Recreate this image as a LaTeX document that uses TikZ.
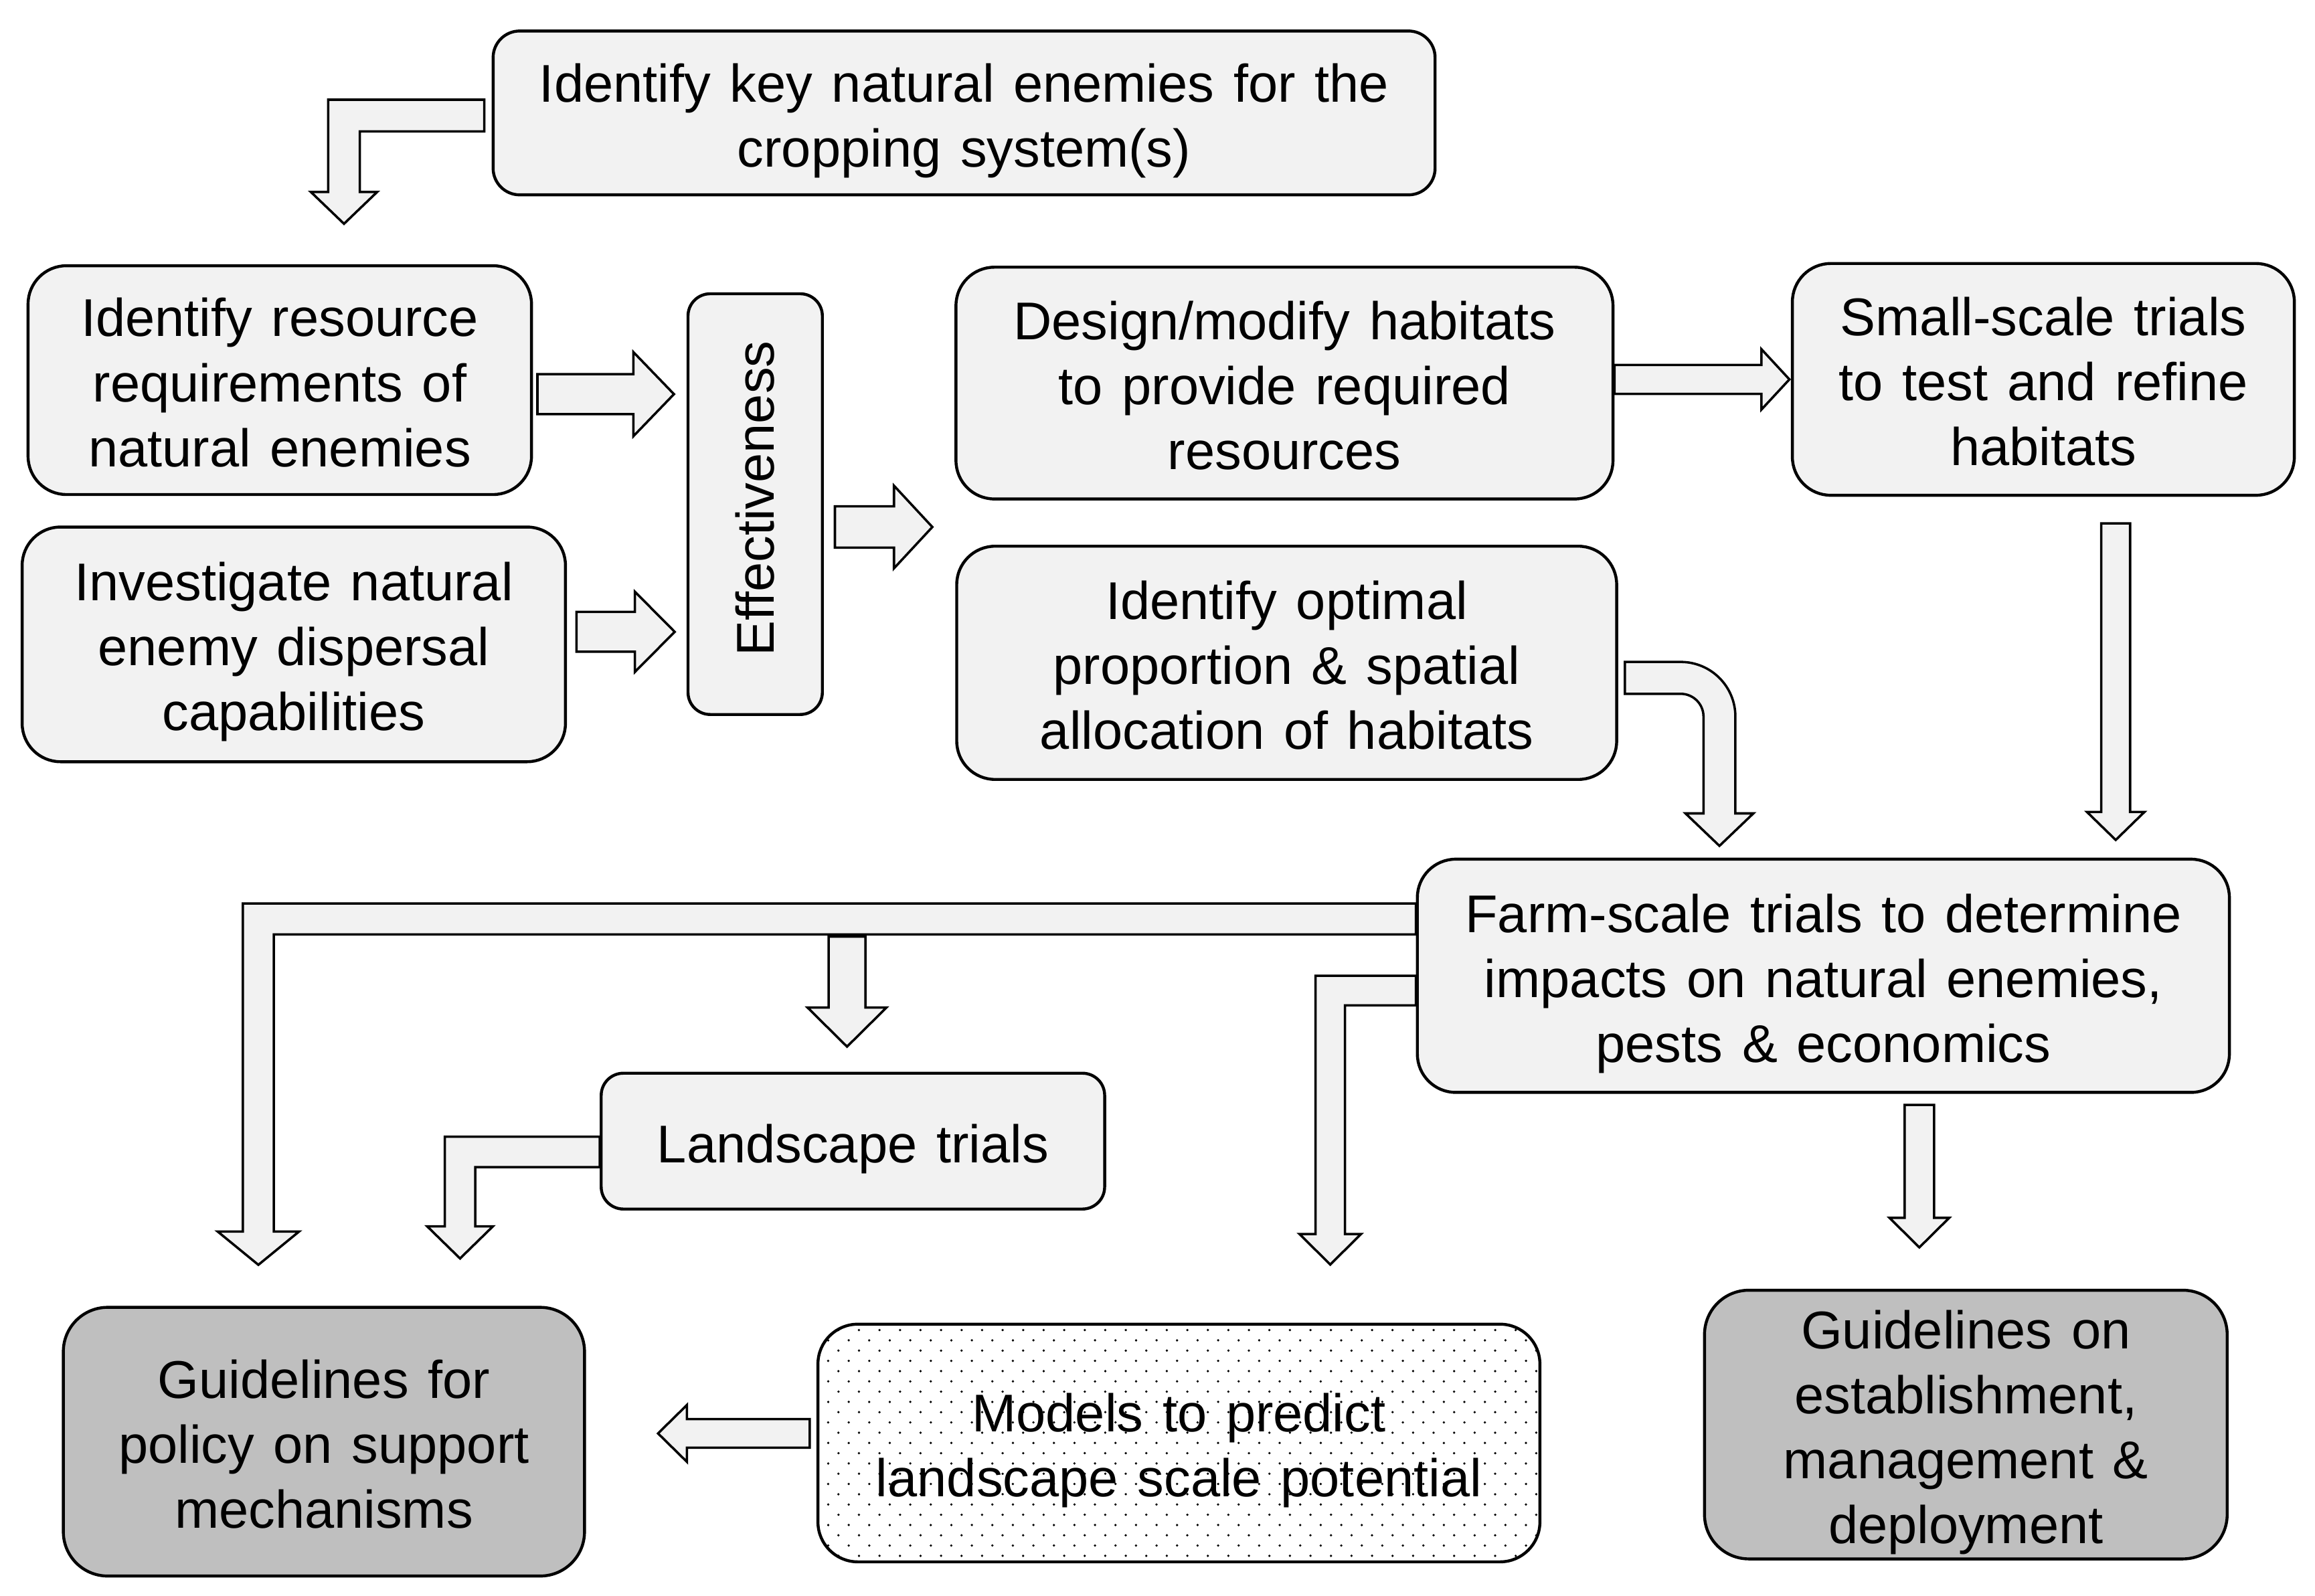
\documentclass[tikz,border=0pt]{standalone}
\usepackage{fontspec}
\setmainfont{Liberation Sans}[WordSpace=1.3]
\usetikzlibrary{calc}
\usetikzlibrary{shapes,arrows}
\definecolor{boxgrey}{HTML}{F2F2F2}
\definecolor{darkgrey}{HTML}{BFBFBF}
\newcommand{\ls}{\rule[-7.6pt]{0pt}{44.2pt}}
\tikzstyle{mybox}=[draw,line width=2pt,fill=boxgrey,rounded corners=26pt,inner sep=0pt,align=center,font=\fontsize{36}{44}\selectfont,
	execute at end node=\ls]
\tikzstyle{mydark}=[mybox,fill=darkgrey,rounded corners=30pt]
\tikzstyle{myarrow}=[draw,line width=1.6pt,fill=boxgrey,line join=miter]
% block arrows: start, tip, half shaft, half head, head length
\newcommand{\rarrow}[5]{\draw[myarrow] let \p1=#1, \p2=#2 in (\x1,\y2+#3) -- (\x2-#5,\y2+#3) -- (\x2-#5,\y2+#4) -- (\p2) -- (\x2-#5,\y2-#4) -- (\x2-#5,\y2-#3) -- (\x1,\y2-#3) -- cycle;}
\newcommand{\larrow}[5]{\draw[myarrow] let \p1=#1, \p2=#2 in (\x1,\y2+#3) -- (\x2+#5,\y2+#3) -- (\x2+#5,\y2+#4) -- (\p2) -- (\x2+#5,\y2-#4) -- (\x2+#5,\y2-#3) -- (\x1,\y2-#3) -- cycle;}
\newcommand{\darrow}[5]{\draw[myarrow] let \p1=#1, \p2=#2 in (\x2-#3,\y1) -- (\x2-#3,\y2+#5) -- (\x2-#4,\y2+#5) -- (\p2) -- (\x2+#4,\y2+#5) -- (\x2+#3,\y2+#5) -- (\x2+#3,\y1) -- cycle;}
\newcommand{\ldarrow}[5]{\draw[myarrow] let \p1=#1, \p2=#2 in (\x1,\y1+#3) -- (\x2-#3,\y1+#3) -- (\x2-#3,\y2+#5) -- (\x2-#4,\y2+#5) -- (\p2) -- (\x2+#4,\y2+#5) -- (\x2+#3,\y2+#5) -- (\x2+#3,\y1-#3) -- (\x1,\y1-#3) -- cycle;}

\begin{document}
\begin{tikzpicture}[x=1pt,y=1pt]
	\useasboundingbox (0,0) rectangle (1568,-1080.7);

	\node[mybox,rounded corners=18pt,minimum width=638pt,minimum height=111pt] (key) at (653,-76.5) {\ls Identify key natural enemies for the\\cropping system(s)};
	\node[mybox,minimum width=341pt,minimum height=155pt] (res) at (189.5,-257.5) {\ls Identify resource\\requirements of\\natural enemies};
	\node[mybox,minimum width=368pt,minimum height=159pt] (dispersal) at (199,-436.5) {\ls Investigate natural\\enemy dispersal\\capabilities};
	\node[mybox,rounded corners=15pt,minimum width=91pt,minimum height=285pt,execute at end node={}] (eff) at (511.5,-341.5) {\rotatebox{90}{Effectiveness}};
	\node[mybox,minimum width=445pt,minimum height=157pt] (design) at (870,-259.5) {\ls Design/modify habitats\\to provide required\\resources};
	\node[mybox,minimum width=340pt,minimum height=157pt] (small) at (1384,-257) {\ls Small-scale trials\\to test and refine\\habitats};
	\node[mybox,minimum width=447pt,minimum height=158pt] (optim) at (871.5,-449) {\ls Identify optimal\\proportion \& spatial\\allocation of habitats};
	\node[mybox,minimum width=550pt,minimum height=158pt] (farm) at (1235,-661) {\ls Farm-scale trials to determine\\impacts on natural enemies,\\pests \& economics};
	\node[mybox,rounded corners=15pt,minimum width=341pt,minimum height=92pt] (land) at (577.7,-773) {\ls Landscape trials};
	\node[mydark,minimum width=353pt,minimum height=182pt] (policy) at (219.4,-976.6) {\ls Guidelines for\\policy on support\\mechanisms};
	\node[mybox,fill=white,rounded corners=27pt,minimum width=489pt,minimum height=161pt,
		path picture={\foreach \j in {0,...,23} \foreach \i in {0,...,36}
			\fill[black] ([shift={({\i*13.9+mod(\j,2)*6.95},{-\j*6.95-4})}]path picture bounding box.north west) circle (0.85);}]
		(models) at (798.5,-977.5) {\ls Models to predict\\landscape scale potential};
	\node[mydark,minimum width=354pt,minimum height=182pt] (guide) at (1331.5,-965) {\ls Guidelines on\\establishment,\\management \&\\deployment};

	\ldarrow{($(key.west)+(-5,-1.8)$)}{($(res.north)+(43.5,27.4)$)}{10.75}{22.5}{21.6}
	\rarrow{($(res.east)+(3,0)$)}{($(eff.west)+(-8.5,74.5)$)}{13.5}{28.5}{27.5}
	\rarrow{($(dispersal.east)+(6.5,0)$)}{($(eff.west)+(-8,-86.5)$)}{13.5}{27.2}{27}
	\rarrow{($(eff.east)+(7.5,0)$)}{($(design.south west)+(-15,-18)$)}{14}{28}{26}
	\rarrow{(design.east)}{($(small.west)+(-1,0)$)}{9.8}{20.5}{19}
	\darrow{($(small.south)+(0,-18)$)}{($(farm.north)+(198,12)$)}{9.75}{19.5}{19}
	\draw[myarrow] let \p1=($(optim.east)+(4.6,-10.2)$), \p2=($(farm.north)+(-70.4,8)$) in
		(\x1,\y1+10.8) -- (\x2+10.8-37,\y1+10.8) arc[start angle=90,end angle=0,radius=37pt] -- (\x2+10.8,\y2+22)
		-- (\x2+23,\y2+22) -- (\p2) -- (\x2-23,\y2+22) -- (\x2-10.8,\y2+22)
		-- (\x2-10.8,\y1-10.8-15.4) arc[start angle=0,end angle=90,radius=15.4pt] -- (\x1,\y1-10.8) -- cycle;
	\ldarrow{($(farm.west)+(0,38.5)$)}{($(policy.north)+(-44.4,27.8)$)}{10.5}{27.5}{22.5}
	\darrow{($(farm.west)+(0,26.5)$)}{($(land.north)+(-4,17)$)}{12.5}{26.75}{26.5}
	\ldarrow{($(land.west)+(0,-7.3)$)}{($(policy.north)+(92.2,32.1)$)}{10.3}{22.3}{21.8}
	\ldarrow{($(farm.west)+(0,-10)$)}{($(models.north)+(102.5,39.4)$)}{10}{20.8}{20.6}
	\darrow{($(farm.south)+(0,-7.5)$)}{($(guide.north)+(-31.5,28)$)}{10}{20.2}{20}
	\larrow{($(models.west)+(-4.6,0)$)}{($(policy.east)+(48.8,5.6)$)}{9.7}{19.3}{19.6}
\end{tikzpicture}
\end{document}
